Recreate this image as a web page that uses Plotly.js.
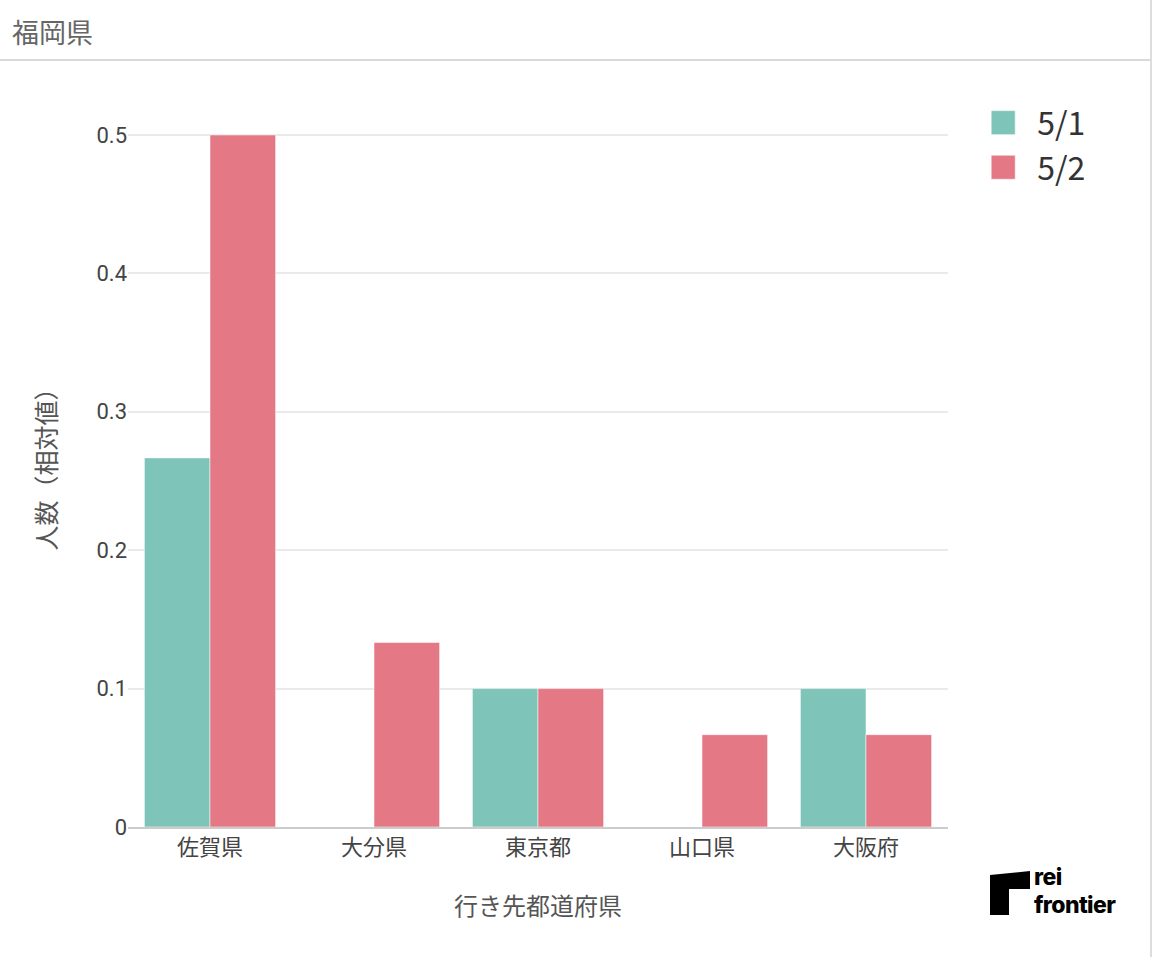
<!DOCTYPE html>
<html>
<head>
<meta charset="utf-8">
<script src="https://cdn.plot.ly/plotly-3.0.1.min.js"></script>
<style>
    body { margin: 0; background: #fff; font-family: "Noto Sans CJK JP", sans-serif; }
    #card { position: relative; width: 1150px; height: 957px; border-right: 2px solid #ddd; }
    #head { position: absolute; left: 0; top: 0; width: 1150px; height: 61px; border-bottom: 2px solid #d9d9d9;
        font-size: 27px; color: #666; line-height: 63px; padding-left: 12px; box-sizing: border-box; }
    #graph { position: absolute; left: 0; top: 0; width: 1150px; height: 957px; }
    #logo { position: absolute; left: 990px; top: 871px; }
    #logo .txt { position: absolute; left: 44px; top: -8px; font-family: Inter, sans-serif; font-weight: 800;
        font-size: 23px; line-height: 28px; letter-spacing: -0.6px; color: #000; white-space: nowrap; }
</style>
</head>
<body>
<div id="card">
    <div id="graph"></div>
    <div id="head">福岡県</div>
    <div id="logo">
        <svg width="42" height="44"><path d="M0,4 L40,0 L40,18 L19,18 L19,44 L0,44 Z" fill="#000"/></svg>
        <div class="txt"><div>rei</div><div>frontier</div></div>
    </div>
</div>
<script>
/* destination prefectures */
const categories = ["佐賀県", "大分県", "東京都", "山口県", "大阪府"];
const seriesNames = ["5/1", "5/2"];
const may1 = [0.2667, 0, 0.1, 0, 0.1];
const may2 = [0.5, 0.1333, 0.1, 0.0667, 0.0667];
const colors = ["#7fc4b8", "#e47884"];

const font = "Noto Sans CJK JP, Roboto, sans-serif";

const trace1 = {
    x: categories,
    y: may1,
    name: seriesNames[0],
    type: "bar",
    marker: { color: colors[0], line: { color: "rgba(255,255,255,0.5)", width: 1 } },
};

const trace2 = {
    x: categories,
    y: may2,
    name: seriesNames[1],
    type: "bar",
    marker: { color: colors[1], line: { color: "rgba(255,255,255,0.5)", width: 1 } },
};

const layout = {
    width: 1150,
    height: 957,
    margin: { l: 128, r: 202, t: 99, b: 130 },
    barmode: "group",
    bargap: 0.2,
    paper_bgcolor: "rgba(0,0,0,0)",
    plot_bgcolor: "#fff",
    font: { family: font, color: "#444", size: 22 },
    xaxis: {
        title: { text: "行き先都道府県", font: { size: 24, color: "#555" }, standoff: 38 },
        showline: true,
        linecolor: "#ccc",
        linewidth: 2,
        tickfont: { size: 22, color: "#444" },
    },
    yaxis: {
        title: { text: "人数（相対値）", font: { size: 25, color: "#555" }, standoff: 32 },
        gridcolor: "#eaeaea",
        gridwidth: 2,
        zeroline: false,
        tickvals: [0, 0.1, 0.2, 0.3, 0.4, 0.5],
        ticktext: ["0", "0.1", "0.2", "0.3", "0.4", "0.5"],
        tickfont: { family: "Roboto, sans-serif", size: 22, color: "#444" },
        range: [0, 0.526],
    },
    legend: {
        x: 1.06,
        xanchor: "left",
        y: 1.005,
        yanchor: "top",
        font: { size: 32, color: "#333" },
        tracegroupgap: 0,
    },
};

/* bigger legend squares, shifted left of the text */
function bigSymbols() {
    document.querySelectorAll(".legend .scrollbox").forEach(function (s) {
        s.removeAttribute("clip-path");
    });
    document.querySelectorAll(".legendpoints path").forEach(function (p) {
        p.setAttribute("d", "M-2,12H-26V-12H-2Z");
    });
}

Plotly.newPlot("graph", [trace1, trace2], layout, { displayModeBar: false }).then(function (gd) {
    bigSymbols();
    gd.on("plotly_afterplot", bigSymbols);
});
</script>
</body>
</html>
